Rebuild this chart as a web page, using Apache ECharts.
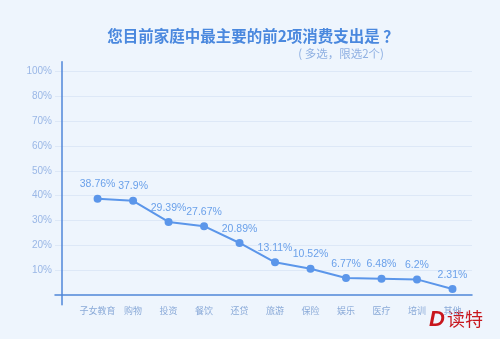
<!DOCTYPE html>
<html>
<head>
<meta charset="utf-8">
<script src="https://cdn.jsdelivr.net/npm/echarts@6/dist/echarts.min.js"></script>
<style>
  html, body { margin: 0; padding: 0; background: #eef5fd; }
  #chart { width: 500px; height: 339px; }
</style>
</head>
<body>
<div id="chart"></div>
<script>
// Spending categories, in the order they appear along the axis
const categories = ['子女教育', '购物', '投资', '餐饮', '还贷', '旅游', '保险', '娱乐', '医疗', '培训', '其他'];
// Share of respondents choosing each category (%)
const shares = [38.76, 37.9, 29.39, 27.67, 20.89, 13.11, 10.52, 6.77, 6.48, 6.2, 2.31];
// Y tick values and the text printed at each one
const yTickValues = [10, 20, 30, 40, 50, 60, 70, 80, 90];
const yTickLabels = ['10%', '20%', '30%', '40%', '50%', '60%', '70%', '80%', '100%'];

const FONT = '"Liberation Sans", "Noto Sans CJK SC", sans-serif';
const CJK = '"Noto Sans CJK SC", sans-serif';

// x positions 1..n so the vertical axis (at x = 0) sits one step before the first point
const points = shares.map((v, i) => [i + 1, v]);
const xTickValues = categories.map((_, i) => i + 1);

const chart = echarts.init(document.getElementById('chart'), null, { renderer: 'canvas' });
chart.setOption({
  backgroundColor: '#eef5fd',
  animation: false,
  title: [{
    text: '您目前家庭中最主要的前2项消费支出是 ？',
    left: 248, top: 23, textAlign: 'center',
    textStyle: { color: '#4a88de', fontSize: 15.5, fontWeight: 'bold', fontFamily: CJK }
  }, {
    text: '( 多选，限选2个)',
    right: 111, top: 43,
    textStyle: { color: '#8fb0e2', fontSize: 11.5, fontWeight: 'normal', fontFamily: CJK }
  }],
  grid: { left: 55, right: 28, top: 61.7, bottom: 34.3 },
  xAxis: {
    type: 'value',
    min: -0.2, max: 11.55,
    axisLine: { onZero: true, lineStyle: { color: '#4f86d8', width: 1.5 } },
    axisTick: { show: false },
    splitLine: { show: false },
    axisLabel: {
      customValues: xTickValues,
      formatter: v => categories[v - 1] || '',
      color: '#8aaad8', fontSize: 9, fontFamily: CJK, margin: 1
    }
  },
  yAxis: {
    type: 'value',
    min: -4, max: 94,
    axisLine: { show: true, onZero: true, lineStyle: { color: '#4f86d8', width: 1.5 } },
    axisTick: { show: false, customValues: yTickValues },
    splitLine: { show: true, lineStyle: { color: '#dde8f7', width: 1 } },
    axisLabel: {
      customValues: yTickValues,
      formatter: v => yTickLabels[yTickValues.indexOf(v)] || '',
      color: '#9ab7e6', fontSize: 10, fontFamily: FONT, margin: 3
    }
  },
  series: [{
    type: 'line',
    data: points,
    symbol: 'circle',
    symbolSize: 8,
    lineStyle: { color: '#5b96ea', width: 2 },
    itemStyle: { color: '#5b96ea' },
    label: {
      show: true, position: 'top', distance: 5,
      formatter: p => p.value[1] + '%',
      color: '#6ba1ea', fontSize: 10.5, fontFamily: FONT
    }
  }],
  graphic: [{
    type: 'text', left: 429, top: 309,
    style: { text: 'D', fill: '#c8161d', font: 'italic 900 22px "Liberation Sans", sans-serif' }
  }, {
    type: 'text', left: 447, top: 310,
    style: { text: '读特', fill: '#c8161d', font: '18px "Noto Sans CJK SC", sans-serif' }
  }]
});
</script>
</body>
</html>
